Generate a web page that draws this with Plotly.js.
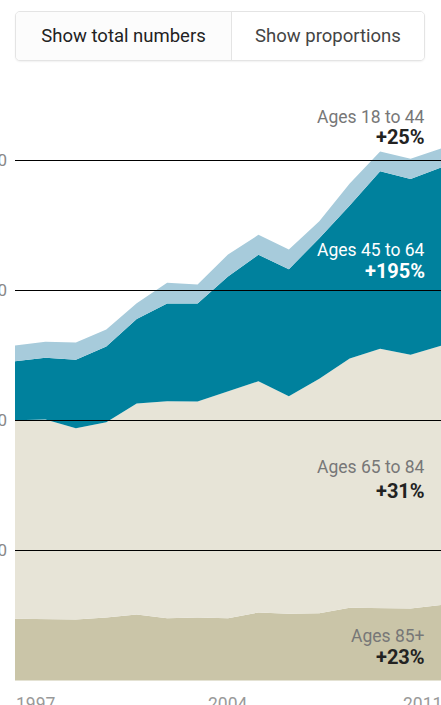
<!DOCTYPE html>
<html>
<head>
<meta charset="utf-8">
<script src="https://cdn.plot.ly/plotly-3.0.1.min.js"></script>
<style>
  html, body { margin: 0; padding: 0; overflow: hidden; width: 441px; height: 705px; background: #fff; }
  #chart { position: absolute; left: -60px; top: 0; width: 560px; height: 705px; }
  #toggle { position: absolute; left: 15px; top: 11px; width: 410px; height: 50px; display: flex;
            border: 1px solid #e4e4e4; border-radius: 5px; box-sizing: border-box; overflow: hidden;
            font-family: Roboto, "Open Sans", sans-serif; font-size: 18.5px; z-index: 5; background: #fff;
            box-shadow: 0 1px 2px rgba(0,0,0,0.06); }
  #toggle div { display: flex; align-items: center; justify-content: center; height: 100%; box-sizing: border-box; }
  #btn1 { width: 216px; color: #222; border-right: 1px solid #e4e4e4; background: #fcfcfc; }
  #btn2 { flex: 1; color: #444; background: #fff; }
  #chart .shapelayer path { shape-rendering: crispEdges; }
</style>
</head>
<body>
<div id="chart"></div>
<div id="toggle"><div id="btn1">Show total numbers</div><div id="btn2">Show proportions</div></div>
<script>
// Years
const years = [1997,1998,1999,2000,2001,2002,2003,2004,2005,2006,2007,2008,2009,2010,2011];
// Series values
const ages85plus = [4750,4720,4690,4850,5080,4790,4850,4790,5230,5130,5180,5590,5590,5540,5800];
const ages65to84 = [15270,15360,14720,15020,16230,16690,16610,17440,17790,16740,18030,19180,19930,19510,19950];
const ages45to64 = [4540,4750,5260,5820,6500,7520,7540,8850,9730,9770,10810,11770,13660,13530,13720];
const ages18to44 = [1210,1230,1330,1310,1210,1590,1460,1690,1530,1510,1310,1690,1510,1560,1460];
// Axis ticks
const yTickVals = [10000,20000,30000,40000];
const yTickText = ["10,000","20,000","30,000","40,000"];
const xTickVals = [1997,2004,2011];
const xTickText = ["1997","2004","2011"];

const FONT = 'Roboto, "Open Sans", sans-serif';

function area(name, y, color) {
  return { x: years, y: y, name: name, type: 'scatter', mode: 'lines', stackgroup: 'one',
           line: { width: 0, color: color }, fillcolor: color, hoverinfo: 'skip' };
}
const traces = [
  area('Ages 85+', ages85plus, '#cac5a8'),
  area('Ages 65 to 84', ages65to84, '#e7e4d7'),
  area('Ages 45 to 64', ages45to64, '#00819d'),
  area('Ages 18 to 44', ages18to44, '#a7cbdb')
];

const shapes = yTickVals.map(v => ({ type: 'line', xref: 'paper', x0: 0, x1: 1, yref: 'y', y0: v, y1: v,
  layer: 'above', line: { color: '#000', width: 1 } }));

const anchors = ['left','center','right'];
const yearAnn = xTickVals.map((v, i) => ({ x: v, xref: 'x', y: 0, yref: 'y', yanchor: 'top', yshift: -11,
  xanchor: anchors[i], xshift: i === 2 ? 3 : (i === 0 ? -1 : 0), text: xTickText[i], showarrow: false,
  font: { family: FONT, size: 17.5, color: '#999' } }));

function lab(text, y, color, bold) {
  return { xref: 'paper', x: 1, xanchor: 'right', xshift: -14, yref: 'y', y: y, yanchor: 'middle',
    text: bold ? '<b>' + text + '</b>' : text, showarrow: false,
    font: { family: FONT, size: bold ? 20 : 17.5, color: color } };
}
const labels = [
  lab('Ages 18 to 44', 43380, '#777', false),
  lab('+25%', 41800, '#222', true),
  lab('Ages 45 to 64', 33150, '#fff', false),
  lab('+195%', 31500, '#fff', true),
  lab('Ages 65 to 84', 16460, '#777', false),
  lab('+31%', 14600, '#222', true),
  lab('Ages 85+', 3460, '#777', false),
  lab('+23%', 1820, '#222', true)
];

const layout = {
  width: 560, height: 705,
  margin: { l: 75, r: 59, t: 96, b: 24 },
  paper_bgcolor: '#fff', plot_bgcolor: '#fff',
  showlegend: false, hovermode: false,
  xaxis: { range: [1997, 2011], showgrid: false, zeroline: false, showline: false, showticklabels: false,
           tickvals: xTickVals, ticktext: xTickText, ticks: '' },
  yaxis: { range: [-38.46, 44961.54], tickvals: yTickVals, ticktext: yTickText, showgrid: false, zeroline: false,
           showline: false, ticks: '', ticklabelstandoff: 7,
           tickfont: { family: FONT, size: 17, color: '#888' } },
  shapes: shapes,
  annotations: yearAnn.concat(labels),
  font: { family: FONT }
};

Plotly.newPlot('chart', traces, layout, { displayModeBar: false, staticPlot: true });
</script>
</body>
</html>
